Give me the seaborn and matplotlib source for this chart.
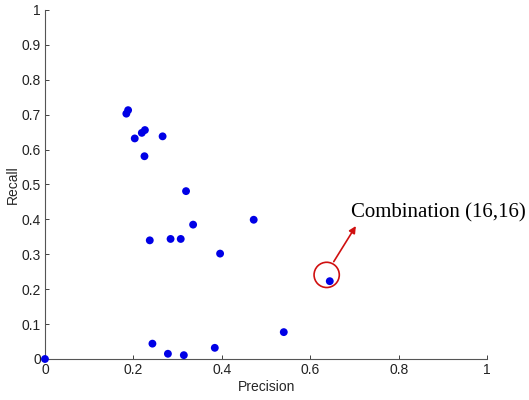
import matplotlib
matplotlib.use("Agg")
import matplotlib.pyplot as plt
import matplotlib.ticker as mticker
import seaborn as sns
import pandas as pd

precision = [0.0, 0.184, 0.188, 0.203, 0.219, 0.226, 0.266, 0.225, 0.319,
             0.237, 0.284, 0.307, 0.335, 0.396, 0.472,
             0.243, 0.278, 0.314, 0.384, 0.540, 0.644]
recall = [0.0, 0.703, 0.713, 0.632, 0.648, 0.656, 0.638, 0.581, 0.481,
          0.340, 0.344, 0.344, 0.385, 0.302, 0.399,
          0.044, 0.015, 0.011, 0.032, 0.077, 0.223]
highlight = (0.637, 0.241)
arrow_start = (0.653, 0.279)
arrow_end = (0.703, 0.381)
label_pos = (0.693, 0.418)
label_text = "Combination (16,16)"
x_ticks = [0, 0.2, 0.4, 0.6, 0.8, 1]
y_ticks = [0, 0.1, 0.2, 0.3, 0.4, 0.5, 0.6, 0.7, 0.8, 0.9, 1]

df = pd.DataFrame({"Precision": precision, "Recall": recall})

sns.set_style("white")
plt.rcParams["font.family"] = ["Liberation Sans", "DejaVu Sans"]
fig = plt.figure(figsize=(5.29, 4.0), dpi=100)
ax = fig.add_axes([0.085, 0.1025, 0.836, 0.8725])
sns.scatterplot(data=df, x="Precision", y="Recall", ax=ax, color="#0000e6",
                s=32, edgecolor="none", clip_on=False, zorder=3)
ax.scatter([highlight[0]], [highlight[1]], s=330, facecolors="none",
           edgecolors="#d01010", linewidths=1.2, zorder=4)
ax.annotate("", xy=arrow_end, xytext=arrow_start,
            arrowprops=dict(arrowstyle="-|>", color="#d01010", lw=1.2,
                            mutation_scale=10, shrinkA=0, shrinkB=0))
ax.text(label_pos[0], label_pos[1], label_text, fontsize=15,
        family="Liberation Serif", va="center", ha="left", color="black")

ax.set_xlim(0, 1)
ax.set_ylim(0, 1)
ax.set_xticks(x_ticks)
ax.set_yticks(y_ticks)
fmt = mticker.FuncFormatter(lambda v, p: "%g" % v)
ax.xaxis.set_major_formatter(fmt)
ax.yaxis.set_major_formatter(fmt)
ax.tick_params(direction="in", length=3, width=0.6, labelsize=10, colors="#222222",
               bottom=True, left=True, pad=3)
ax.set_xlabel("Precision", fontsize=10, labelpad=2)
ax.set_ylabel("Recall", fontsize=10, labelpad=1)
for s in ["top", "right"]:
    ax.spines[s].set_visible(False)
for s in ["left", "bottom"]:
    ax.spines[s].set_color("#555555")
    ax.spines[s].set_linewidth(0.8)
fig.savefig("out.png", dpi=100)
